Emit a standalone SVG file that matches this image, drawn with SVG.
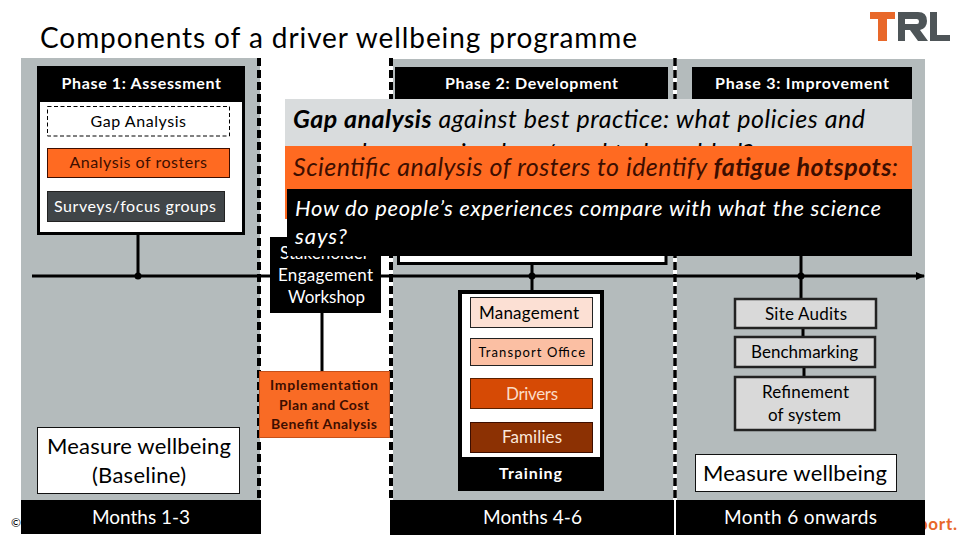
<svg xmlns="http://www.w3.org/2000/svg" width="960" height="540" viewBox="0 0 960 540">
<style>
text{font-family:Lato,"Open Sans","Liberation Sans",sans-serif;font-size:17px;fill:#000}
.w{fill:#fff}.b{font-weight:700}.i{font-style:italic}
.h{font-size:16px;font-weight:700;fill:#fff}
.m{font-size:19px;fill:#fff}
.big{font-size:22px}
.ln{stroke:#000;stroke-width:3;fill:none}
.dash{stroke:#000;stroke-width:4;stroke-dasharray:8 4;fill:none}
.box3{fill:#d9d9d9;stroke:#222;stroke-width:2.5}
.wb{fill:#fff;stroke:#111;stroke-width:1}
.dk{fill:#3d0e00}
</style>
<defs>
<marker id="arr" markerWidth="10" markerHeight="10" refX="8" refY="4" orient="auto" markerUnits="userSpaceOnUse"><path d="M0 0L9 4L0 8Z" fill="#000"/></marker>
</defs>
<rect width="960" height="540" fill="#fff"/>
<g id="background">
<rect x="21" y="58" width="239" height="442" fill="#b4bbbc"/>
<rect x="391" y="59" width="534" height="441" fill="#b4bbbc"/>
<rect x="389" y="59" width="4" height="441" fill="#fff"/>
<rect x="673" y="59" width="4" height="441" fill="#fff"/>
</g>
<text x="40" y="48" style="font-size:28px" textLength="597" lengthAdjust="spacing">Components of a driver wellbeing programme</text>
<g id="logo">
<path d="M870 12H895V19H887V41H878V19H870Z" fill="#e8682a"/>
<path d="M898 12H918Q927 12 927 21Q927 28 920 30L928 41H918L910 30H905V41H898ZM905 19V24H917Q919 24 919 21.500Q919 19 917 19Z" fill="#4e5558"/>
<path d="M930 12H937V35H950V41H930Z" fill="#4e5558"/>
</g>
<g id="footer-text">
<text x="11" y="527" style="font-size:12px">©</text>
<text x="918" y="530" class="b" style="font-size:17px;fill:#e8682a" textLength="39">port.</text>
</g>
<g id="connectors">
<path class="dash" d="M259 58V500"/>
<path class="dash" d="M391 58V498"/>
<path class="dash" d="M675 58V500" style="stroke-width:3.500"/>
<path class="ln" d="M32 276H924" marker-end="url(#arr)"/>
<path class="ln" d="M138 235V276M532 262V291M801 250V299M322 310V371M803 328V337M804 367V377"/>
<circle cx="138" cy="276" r="3.500"/><circle cx="532" cy="276" r="3.500"/><circle cx="801" cy="276" r="3.500"/>
</g>
<g id="phase1">
<rect x="38.500" y="67.500" width="205" height="166" fill="#fff" stroke="#000" stroke-width="3"/>
<rect x="37" y="66" width="208" height="36"/>
<text x="61.500" y="89" class="h" textLength="159.500">Phase 1: Assessment</text>
</g>
<g id="gap-analysis">
<rect x="47.500" y="106.500" width="182" height="29.500" fill="#fff" stroke="#000" stroke-dasharray="4 2.500"/>
<text x="90.500" y="127" style="font-size:16px" textLength="95.500">Gap Analysis</text>
</g>
<g id="analysis-rosters">
<rect x="47.500" y="148.500" width="182" height="29" fill="#ff6a21" stroke="#3d0e00"/>
<text x="69.500" y="168" class="dk" style="font-size:16px" textLength="137.500">Analysis of rosters</text>
</g>
<g id="surveys">
<rect x="47.500" y="191.500" width="177" height="30" fill="#404548" stroke="#222"/>
<text x="54" y="212" class="w" style="font-size:16px" textLength="162">Surveys/focus groups</text>
</g>
<g id="baseline">
<rect x="37.500" y="427.500" width="202" height="66" class="wb"/>
<text x="47" y="454" class="big" textLength="184">Measure wellbeing</text>
<text x="92" y="483" class="big" textLength="94">(Baseline)</text>
</g>
<g id="months1"><rect x="21" y="500" width="240" height="34"/><text x="92" y="524" class="m" textLength="98">Months 1-3</text></g>
<g id="phase2">
<rect x="398.500" y="240" width="267.500" height="23.500" fill="#fff" stroke="#000" stroke-width="3"/>
<rect x="395" y="67" width="273" height="32"/>
<text x="445" y="89" class="h" textLength="173">Phase 2: Development</text>
</g>
<g id="phase3">
<rect x="692" y="67" width="220" height="32"/>
<text x="715" y="89" class="h" textLength="174">Phase 3: Improvement</text>
</g>
<g id="stakeholder">
<rect x="270" y="237" width="111" height="76"/>
<text x="280" y="259" class="w" textLength="89">Stakeholder</text>
<text x="278" y="281" class="w" textLength="95">Engagement</text>
<text x="288" y="303" class="w" textLength="77">Workshop</text>
</g>
<g id="callout-gap">
<rect x="285" y="99" width="627" height="60" fill="#d9dcdd"/>
<text x="293" y="128" class="i" style="font-size:25px" textLength="572"><tspan class="b">Gap analysis</tspan> against best practice: what policies and</text>
<text x="293" y="162" class="i" style="font-size:25px" textLength="460">procedures are in place/need to be added?</text>
</g>
<g id="callout-rosters">
<rect x="285" y="146" width="627" height="73" fill="#ff6a21"/>
<text x="293" y="176" class="i dk" style="font-size:25px" textLength="605">Scientific analysis of rosters to identify <tspan class="b">fatigue hotspots</tspan>:</text>
</g>
<g id="callout-surveys">
<rect x="287" y="189" width="625" height="67"/>
<text x="295" y="216" class="i w" style="font-size:22px" textLength="586">How do people’s experiences compare with what the science</text>
<text x="295" y="244" class="i w" style="font-size:22px" textLength="52">says?</text>
</g>
<g id="implementation">
<rect x="259.500" y="371.500" width="130" height="66" fill="#f96b25" stroke="#c4501a"/>
<text x="270" y="390" class="b dk" style="font-size:14px" textLength="108">Implementation</text>
<text x="279" y="410" class="b dk" style="font-size:14px" textLength="90">Plan and Cost</text>
<text x="271" y="429" class="b dk" style="font-size:14px" textLength="106">Benefit Analysis</text>
</g>
<g id="training">
<rect x="460" y="292" width="142" height="197" fill="#fff" stroke="#000" stroke-width="4"/>
<rect x="458" y="457" width="146" height="33"/>
<text x="499" y="479" class="h" textLength="63">Training</text>
</g>
<g id="management">
<rect x="470.500" y="297.500" width="122" height="30" fill="#fce0d4" stroke="#222"/>
<text x="479" y="319" textLength="100">Management</text>
</g>
<g id="transport">
<rect x="470.500" y="338.500" width="122" height="27" fill="#fbbfa3" stroke="#222"/>
<text x="478.500" y="357" style="font-size:13px" textLength="106.500">Transport Office</text>
</g>
<g id="drivers">
<rect x="470.500" y="378.500" width="122" height="30" fill="#d64a05" stroke="#5a2000"/>
<text x="506" y="400" style="fill:#fbdcc8" textLength="52">Drivers</text>
</g>
<g id="families">
<rect x="470.500" y="422.500" width="122" height="30" fill="#8c3103" stroke="#3d0e00"/>
<text x="502" y="443" style="fill:#fbe8dc" textLength="60">Families</text>
</g>
<g id="site-audits">
<rect x="735" y="299" width="141" height="29" class="box3"/>
<text x="765" y="320" textLength="82">Site Audits</text>
</g>
<g id="benchmarking">
<rect x="735" y="337" width="140" height="30" class="box3"/>
<text x="751" y="358" textLength="107">Benchmarking</text>
</g>
<g id="refinement">
<rect x="735" y="377" width="140" height="53" class="box3"/>
<text x="762" y="398" textLength="87">Refinement</text>
<text x="768" y="421" textLength="73">of system</text>
</g>
<g id="measure">
<rect x="695.500" y="454.500" width="201" height="37" class="wb"/>
<text x="703" y="481" class="big" textLength="184">Measure wellbeing</text>
</g>
<g id="months4"><rect x="390" y="500" width="284" height="35"/><text x="483" y="524" class="m" textLength="99">Months 4-6</text></g>
<g id="months6"><rect x="676" y="500" width="249" height="35"/><text x="724" y="524" class="m" textLength="153">Month 6 onwards</text></g>
</svg>
